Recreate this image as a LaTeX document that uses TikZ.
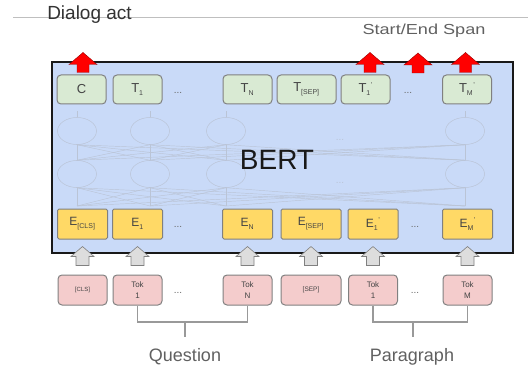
\documentclass[tikz,border=0pt]{standalone}
\usepackage{fontspec}
\setmainfont{Liberation Sans}
\usetikzlibrary{calc,shapes.geometric}

\definecolor{boxblue}{HTML}{C9DAF8}
\definecolor{outgreen}{HTML}{D9EAD3}
\definecolor{embyellow}{HTML}{FFD966}
\definecolor{tokpink}{HTML}{F4CCCC}
\definecolor{edgegray}{HTML}{808080}
\definecolor{inkgray}{HTML}{444444}
\definecolor{netgray}{HTML}{BAC4D6}
\definecolor{arrowgray}{HTML}{DDDDDD}
\definecolor{arrowred}{HTML}{FF0000}

% letter with a subscript and, after it, a raised mark
\newcommand{\lbl}[3]{#1\begingroup\fontsize{7}{7}\selectfont\raisebox{-3pt}{#2}\kern0.6pt\raisebox{5pt}{#3}\endgroup}

% upward block arrows, drawn from the centre of the shaft's foot
\newcommand{\redup}[1]{%
  \filldraw[redarrow] (#1) ++(-6,0) -- ++(0,-8) -- ++(-8,0) -- ++(14,-12)
    -- ++(14,12) -- ++(-8,0) -- ++(0,8) -- cycle;}
\newcommand{\grayup}[1]{%
  \filldraw[grayarrow] (#1) ++(-6.5,0) -- ++(0,-9) -- ++(-5,0) -- ++(11.5,-10)
    -- ++(11.5,10) -- ++(-5,0) -- ++(0,9) -- cycle;}

\tikzset{
  bertbox/.style={draw=black!90, fill=boxblue, line width=2.2pt, inner sep=0pt},
  outbox/.style={draw=edgegray, fill=outgreen, rounded corners=4pt, line width=1pt,
    minimum height=29pt, minimum width=49pt, inner sep=0pt, text=inkgray,
    font=\fontsize{13}{13}\selectfont},
  embbox/.style={draw=edgegray, fill=embyellow, rounded corners=1.5pt, line width=1pt,
    minimum height=30pt, minimum width=50pt, inner sep=0pt, text=inkgray,
    font=\fontsize{12}{12}\selectfont},
  tokbox/.style={draw=edgegray, fill=tokpink, rounded corners=4pt, line width=1pt,
    minimum height=30pt, minimum width=49pt, inner sep=0pt, text=inkgray,
    align=center, font=\fontsize{8}{11}\selectfont},
  neuron/.style={ellipse, draw=netgray, line width=0.5pt, minimum width=39pt,
    minimum height=27pt, inner sep=0pt},
  net/.style={draw=netgray, line width=0.45pt},
  dots/.style={text=inkgray!80, font=\fontsize{10}{10}\selectfont, inner sep=0pt},
  redarrow/.style={fill=arrowred, draw=red!60!black, line width=0.4pt},
  grayarrow/.style={fill=arrowgray, draw=edgegray, line width=0.6pt},
  bracket/.style={draw=edgegray!80, line width=1.6pt},
  caption/.style={text=inkgray!85, inner sep=0pt}
}

\begin{document}
\begin{tikzpicture}[x=1pt,y=-1pt]
\useasboundingbox (0,0) rectangle (528,369);

% header rule and output label
\coordinate (ruleL) at (13,17);
\coordinate (ruleR) at (528,17);
\draw[draw=black!25, line width=0.8pt] (ruleL) -- (ruleR);
\node[caption, text=black!80, anchor=base, font=\fontsize{19}{19}\selectfont] (dialog) at (89.5,20) {Dialog act};
\node[caption, anchor=base, font=\fontsize{14.5}{14.5}\selectfont] (span) at (424,35) {\scalebox{1.25}[1]{Start/End Span}};

% the encoder block
\node[bertbox, minimum width=461pt, minimum height=191pt] (bert) at (282.5,157.5) {};

% hidden layers
\node[neuron] (h11) at (77,131) {};
\node[neuron] (h12) at (150,131) {};
\node[neuron] (h13) at (226,131) {};
\node[neuron] (h14) at (465,131) {};
\node[neuron] (h21) at (77,174) {};
\node[neuron] (h22) at (150,174) {};
\node[neuron] (h23) at (226,174) {};
\node[neuron] (h24) at (465,174) {};
\node[dots, text=netgray] (hd1) at (340,140) {...};
\node[dots, text=netgray] (hd2) at (340,183) {...};
\coordinate (b1) at (77,206);
\coordinate (b2) at (150,206);
\coordinate (b3) at (226,206);
\coordinate (b4) at (465,206);
\foreach \a in {h11,h12,h13,h14}{
  \foreach \b in {h21,h22,h23,h24}{
    \draw[net] (\a.south) -- (\b.north);}}
\foreach \a in {h21,h22,h23,h24}{
  \foreach \b in {b1,b2,b3,b4}{
    \draw[net] (\a.south) -- (\b);}}
\foreach \a in {h11,h12,h13,h14}{
  \draw[net] (\a.north) -- ++(0,-6);}

\node[font=\fontsize{28}{28}\selectfont, text=black!90, anchor=base, inner sep=0pt] (bertlbl) at (277,169) {BERT};

% output row
\node[outbox] (C)   at (81.5,89.5)  {C};
\node[outbox] (T1)  at (137.5,89.5) {\lbl{T}{1}{}};
\node[dots]   (td)  at (178,93)     {...};
\node[outbox] (TN)  at (247.5,89.5) {\lbl{T}{N}{}};
\node[outbox, minimum width=59pt] (TS) at (306.5,89.5) {\lbl{T}{[SEP]}{}};
\node[outbox] (T1p) at (365.5,89.5) {\lbl{T}{1}{'}};
\node[dots]   (tdp) at (408,93)     {...};
\node[outbox] (TMp) at (467,89.5)   {\lbl{T}{M}{'}};
\coordinate (tmid) at (418,73);

% embedding row
\node[embbox] (Ecls) at (82.5,224)  {\lbl{E}{[CLS]}{}};
\node[embbox] (E1)   at (137.5,224) {\lbl{E}{1}{}};
\node[dots]   (ed)   at (178,227)   {...};
\node[embbox] (EN)   at (247.5,224) {\lbl{E}{N}{}};
\node[embbox, minimum width=60pt] (ES) at (311,224) {\lbl{E}{[SEP]}{}};
\node[embbox] (E1p)  at (373,224)   {\lbl{E}{1}{'}};
\node[dots]   (edp)  at (415,227)   {...};
\node[embbox] (EMp)  at (467.5,224) {\lbl{E}{M}{'}};

% input tokens
\node[tokbox, font=\fontsize{6}{6}\selectfont] (kcls) at (82.5,290) {[CLS]};
\node[tokbox] (k1)   at (137.5,290) {Tok\\1};
\node[dots]   (kd)   at (178,293)   {...};
\node[tokbox] (kN)   at (247.5,290) {Tok\\N};
\node[tokbox, minimum width=60pt, font=\fontsize{6.5}{6.5}\selectfont] (ksep) at (311,290) {[SEP]};
\node[tokbox] (k1p)  at (373,290)   {Tok\\1};
\node[dots]   (kdp)  at (415,293)   {...};
\node[tokbox] (kMp)  at (467.5,290) {Tok\\M};

% red output arrows
\redup{$(C.north)+(1.5,-2)$}
\redup{$(T1p.north)+(4.5,-2)$}
\redup{tmid}
\redup{$(TMp.north)+(-1.5,-2)$}

% gray input arrows
\foreach \k in {kcls,k1,kN,ksep,k1p,kMp}{
  \grayup{$(\k.north)+(0,-9)$}}

% segment brackets
\coordinate (qstem) at (185,322);
\coordinate (pstem) at (413,322);
\draw[bracket] (k1.south) -- (k1.south |- qstem) -- (kN.south |- qstem) -- (kN.south);
\draw[bracket] (qstem) -- ++(0,15);
\draw[bracket] (k1p.south) -- (k1p.south |- pstem) -- (kMp.south |- pstem) -- (kMp.south);
\draw[bracket] (pstem) -- ++(0,15);
\node[caption, anchor=base, font=\fontsize{18}{18}\selectfont] (question) at (185,361) {Question};
\node[caption, anchor=base, font=\fontsize{18}{18}\selectfont] (paragraph) at (412,361) {Paragraph};
\end{tikzpicture}
\end{document}
